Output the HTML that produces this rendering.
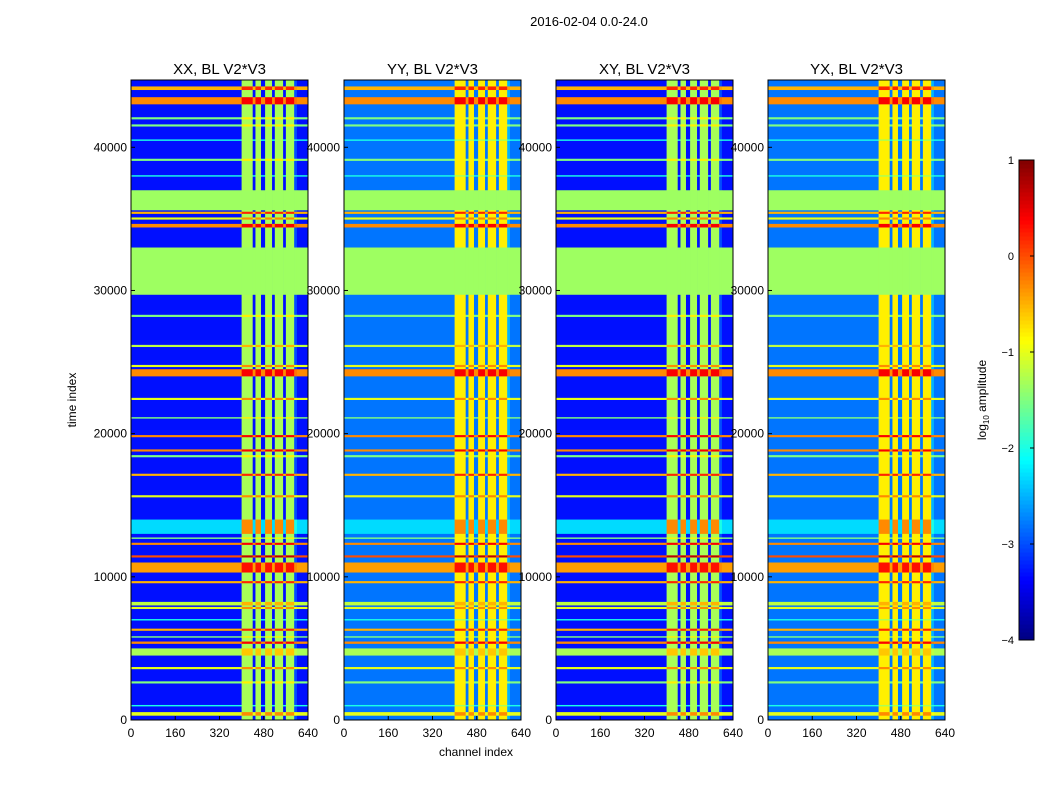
<!DOCTYPE html>
<html><head><meta charset="utf-8">
<style>
body{margin:0;background:#fff;font-family:"Liberation Sans",sans-serif;}
svg text{font-family:"Liberation Sans",sans-serif;}
</style></head>
<body>
<svg id="chart" width="1050" height="800" xmlns="http://www.w3.org/2000/svg">
<rect width="1050" height="800" fill="#fff"/>
<text x="589" y="26" font-size="13" text-anchor="middle">2016-02-04 0.0-24.0</text>
<text x="476" y="756" font-size="12" text-anchor="middle">channel index</text>
<text transform="translate(76,400) rotate(-90)" font-size="12" text-anchor="middle">time index</text>
<g id="panels"></g>
<g id="cbar"></g>
</svg>
<script>
const panelTitles = ["XX, BL V2*V3","YY, BL V2*V3","XY, BL V2*V3","YX, BL V2*V3"];
const panelBackground = [-3.3, -2.8, -3.3, -2.8];
const lineStarts = [300,950,2550,3550,4500,5320,5750,6230,6950,7750,8000,9550,10300,11350,12230,12650,13000,15550,17050,18350,18750,19750,21050,22350,24000,24650,26050,28150,29700,34400,34950,35350,35600,37950,39050,40450,41450,41950,43000,44000];
const lineEnds = [550,1050,2700,3700,5000,5480,5850,6380,7050,7900,8250,9700,11000,11500,12380,12750,14000,15700,17200,18500,18900,19900,21150,22500,24500,24800,26200,28300,33000,34650,35100,35500,37000,38050,39200,40550,41600,42100,43500,44250];
const lineValues = [-1,-2,-1.5,-1,-1.3,-0.3,-1.5,-0.5,-2,-1,-1.2,-0.5,-0.4,0,-0.3,-1.5,-2.3,-1,-0.5,-1.5,-0.3,-0.3,-1.5,-1,-0.3,-1,-1.2,-1.5,-1.35,-0.3,-1,-0.5,-1.35,-2,-1.5,-2,-1.5,-1.5,-0.3,-0.5];
const lineFlat = [0,0,0,0,0,0,0,0,0,0,0,0,0,0,0,0,0,0,0,0,0,0,0,0,0,0,0,0,1,0,0,0,1,0,0,0,0,0,0,0];
const colStarts = [0,400,440,450,470,485,510,520,550,560,590,600];
const colEnds = [400,440,450,470,485,510,520,550,560,590,600,640];
const colOffsets = [0,2.0,-0.5,2.0,-0.3,2.0,-0.5,2.0,-0.5,2.0,0.3,0];
const xTicks = [0,160,320,480,640];
const yTicks = [0,10000,20000,30000,40000];
const cbarTicks = [1,0,-1,-2,-3,-4];

const NS="http://www.w3.org/2000/svg";
const panelLefts=[131,344,556,768], PW=177, PT=80, PB=720, YMAX=44700, XMAX=640;
function jet(v){let t=(v+4)/5;t=Math.max(0,Math.min(1,t));
 const c=x=>Math.round(255*Math.max(0,Math.min(1,x)));
 return `rgb(${c(1.5-Math.abs(4*t-3))},${c(1.5-Math.abs(4*t-2))},${c(1.5-Math.abs(4*t-1))})`;}
function yS(v){return PB-(v/YMAX)*(PB-PT);}
function mk(tag,attrs,parent){const e=document.createElementNS(NS,tag);for(const k in attrs)e.setAttribute(k,attrs[k]);parent.appendChild(e);return e;}
function cellVal(v,off,flat){ if(flat) return v; const k = v<-2 ? 1 : 0.35; return Math.min(1, Math.max(v, v+off*k)); }
const panels=document.getElementById('panels');
panelLefts.forEach((L,p)=>{
 const g=mk('g',{},panels);
 
 
 const xS=v=>L+(v/XMAX)*PW;
 for(let c=0;c<colStarts.length;c++){
  const v=cellVal(panelBackground[p],colOffsets[c],0);
  const rc=mk('rect',{x:xS(colStarts[c]),y:PT,width:xS(colEnds[c])-xS(colStarts[c])+0.3,height:PB-PT,fill:jet(v)},g);
  
  
 }
 for(let r=0;r<lineStarts.length;r++){
  for(let c=0;c<colStarts.length;c++){
   const v=cellVal(lineValues[r],colOffsets[c],lineFlat[r]);
   const y1=yS(lineEnds[r]),y0=yS(lineStarts[r]);
   const rc=mk('rect',{x:xS(colStarts[c]),y:y1,width:xS(colEnds[c])-xS(colStarts[c])+0.3,height:y0-y1,fill:jet(v)},g);
   
   
  }
 }
 const fr=mk('rect',{x:L,y:PT,width:PW,height:PB-PT,fill:'none',stroke:'#000','stroke-width':1},g);
 
 
 const t=mk('text',{x:L+PW/2,y:PT-6,'font-size':15,'text-anchor':'middle'},g);t.textContent=panelTitles[p];
 
 
 xTicks.forEach(v=>{const x=xS(v);
  mk('line',{x1:x,x2:x,y1:PB,y2:PB-4,stroke:'#000'},g);
  const tx=mk('text',{x:x,y:PB+17,'font-size':12,'text-anchor':'middle'},g);tx.textContent=v;
  
  });
 yTicks.forEach(v=>{const y=yS(v);
  mk('line',{x1:L,x2:L+4,y1:y,y2:y,stroke:'#000'},g);
  const ty=mk('text',{x:L-4,y:y+4,'font-size':12,'text-anchor':'end'},g);ty.textContent=v;
  
  });
});
const cb=document.getElementById('cbar');


const CT=160,CB=640,CL=1019,CW=15;
for(let i=0;i<120;i++){const v=-4+5*(i+0.5)/120;const y=CB-(i+1)*(CB-CT)/120;
 mk('rect',{x:CL,y:y,width:CW,height:(CB-CT)/120+0.5,fill:jet(v)},cb);}
mk('rect',{x:CL,y:CT,width:CW,height:CB-CT,fill:'none',stroke:'#000'},cb);
cbarTicks.forEach(v=>{const y=CB-(v+4)/5*(CB-CT);
 mk('line',{x1:CL+CW-4,x2:CL+CW,y1:y,y2:y,stroke:'#000'},cb);
 const t=mk('text',{x:CL-5,y:y+4,'font-size':11,'text-anchor':'end'},cb);t.textContent=(v<0?'\u2212'+(-v):v);
 
 });
const ct=mk('text',{transform:'translate(986,400) rotate(-90)','font-size':12,'text-anchor':'middle'},cb);
ct.innerHTML='log<tspan font-size="8" dy="3">10</tspan><tspan dy="-3"> amplitude</tspan>';


</script>
</body></html>
